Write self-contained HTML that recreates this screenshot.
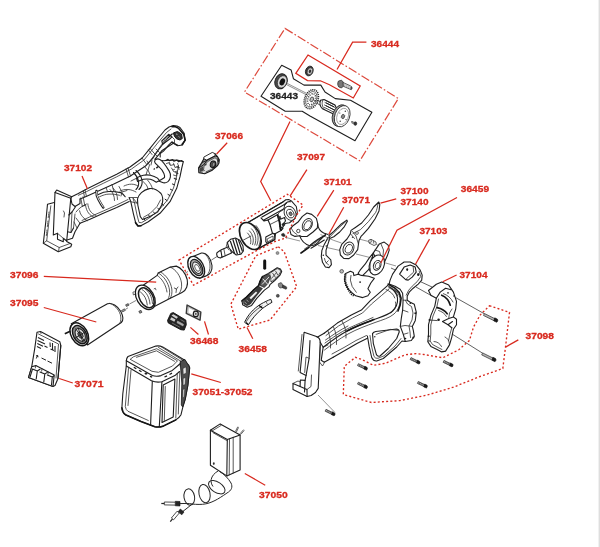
<!DOCTYPE html>
<html><head><meta charset="utf-8">
<style>
html,body{margin:0;padding:0;background:#fff;}
body{width:600px;height:547px;overflow:hidden;position:relative;font-family:"Liberation Sans",sans-serif;}
svg{position:absolute;left:0;top:0;display:block;filter:blur(.35px)}
.k{fill:none;stroke:#1e1e1e;stroke-width:1.1;stroke-linejoin:round;stroke-linecap:round}
.k2{fill:none;stroke:#2c2c2c;stroke-width:.8;stroke-linejoin:round;stroke-linecap:round}
.kb{fill:none;stroke:#161616;stroke-width:1.6;stroke-linejoin:round;stroke-linecap:round}
.f{fill:#fff;stroke:#1e1e1e;stroke-width:1.1;stroke-linejoin:round}
.d{fill:#2a2a2a;stroke:#2a2a2a;stroke-width:.5;stroke-linejoin:round}
.g{fill:#8a8a8a;stroke:#333;stroke-width:.6}
.r{fill:none;stroke:#d8291e;stroke-width:1.25;stroke-linecap:butt;stroke-linejoin:miter}
.rd{fill:none;stroke:#d8291e;stroke-width:1.35;stroke-dasharray:2 2.2}
.rdd{fill:none;stroke:#dd4a3d;stroke-width:1.2;stroke-dasharray:9 2.2 1.6 2.2}
text{font-family:"Liberation Sans",sans-serif;font-weight:bold;font-size:9.5px;fill:#d8291e;stroke:#d8291e;stroke-width:.3px;paint-order:stroke}
text.b{fill:#222;stroke:#222}
</style></head>
<body>
<div style="position:absolute;left:598px;top:0;width:1px;height:547px;background:#f1f1f1"></div><div style="position:absolute;left:599px;top:0;width:1px;height:547px;background:#dedede"></div>
<svg width="600" height="547" viewBox="0 0 600 547">
<!-- ===== PARTS ===== -->
<g id="parts">
<g id="h37102">
<!-- battery plate -->
<path class="k" d="M55,192.5 L56.7,190 L71.7,196.7 L70.8,198.3 Z"/>
<path class="k" d="M55,192.5 L53.3,235 L57.5,233.3 L57.5,239.2 L63.3,241.7 L63.3,238.3 L66.7,241 L70.8,198.3"/>
<path class="k" d="M54.2,202.5 L47.5,204.2 L45.8,221.7 L43.3,243.3 L58.3,251.7 L70.8,246.7 L71.7,244.2 L66.7,241.5"/>
<path class="k2" d="M50.8,205.8 L46.7,240.8 L59.2,247.5 L70,243.5"/>
<path class="k2" d="M59.2,247.5 L58.5,251.5 M46.7,240.8 L43.5,243"/>
<path class="k2" d="M49,212 L48.2,218 M48,221 L47.3,227 M47,230 L46.3,236" stroke-dasharray="1.2 1"/>
<path class="k2" d="M63.5,211 L64.5,213 L64,217 M57.5,233.3 L63.3,238.3"/>
<!-- neck -->
<path class="k" d="M70.8,198.3 L72,204 L75,206.5 L80,203.5 L80,199"/>
<path class="k" d="M68.8,215 L72,212 L75.5,206.8 M67.5,231.7 L71,232.5 L73.5,228 M67,240 L72.5,238.3 L75,231.7 L80,223.3"/>
<path class="k2" d="M72,212 L71,232 M75,214 L73.5,228"/>
<!-- grip upper edges -->
<path class="k" d="M71.7,196.7 L78.3,193.5 L86.7,189 L103.3,180.8 L116.7,174.3 L130,167 L142.2,158 L150,148.3 L156.7,140 L165,130 L169,127 L173.3,125.6 L177,126 L180,127.5 L184.2,133.3 L185,140 L182.5,145 L177.5,145.8 L173.3,143.3 L166.7,147.5 L161.7,150.8 L159.2,154.2 L155,159.2"/>
<path class="k" d="M80,199 L86.7,196.3 L96.7,191.8 L113.3,184.3 L130,176.3 L145.5,166 L153,158 L158,150.5 L163,144 L168,138 L172,134 L176.5,133.5"/>
<path class="k2" d="M78.3,195.3 L86.7,191.5 L103.3,183.3 L116.7,176.8 L131.5,169 L144,160 L151.8,150.3 L158.5,142 L166.5,132.5 L171,129"/>
<path class="k2" d="M85,190 L86.5,196.5 M83.4,191.1 L84.5,197 M128,168 L130.5,176 M126,169 L128.5,177 M150,148.3 L153.5,152.5 M148.5,150 L152,154.5 M142,158 L146,163.5"/>
<!-- hook inner -->
<path class="k" d="M161.8,141 L168.6,134.3 L171.9,136.8 L169.4,139.3 L162.7,144.4 Z"/>
<path class="k2" d="M150.1,161.2 L157.6,150.3 L161.8,144.4 L165.2,139.3 L169.4,135.1"/>
<path class="k" d="M177.8,145.2 L174.5,143.5 L171.9,141.8 L168.6,145.2 L163.5,151.1 L160.2,153.6 L160.2,157"/>
<path d="M173.6,132.8 L177.5,131.5 L181.5,134 L182.3,138.5 L180,140 L176.5,138.8 L174.3,136Z" fill="#333" stroke="#161616" stroke-width="1"/>
<path d="M176,134 l1.5,.4 M178.5,136.5 l1.2,.8" stroke="#ddd" stroke-width=".7"/>
<path class="kb" d="M171.9,126.6 L175.5,126.8 L178.7,128.4 L183.7,134.3 L185.2,140.2 L182,144.4"/>
<path class="k2" d="M171.9,136.8 L174.5,139.5 L174.5,143.5 M153.5,152.5 L157,156 M156,149 L159.5,152.5"/>
<!-- grip lower edge -->
<path class="k" d="M80,223.3 L90,219.2 L103.3,213.3 L116.7,207.5 L129.2,201.5"/>
<path class="k2" d="M82,220.5 L90,216.8 L103.3,211 L116.7,205 L128,199.5"/>
<!-- grip inner ribs -->
<path d="M96.5,190.9 C96.3,194 97,197 98.3,199.1 C99.8,202 101.5,205 103.3,207.5" stroke="#1e1e1e" stroke-width="2.4" fill="none" stroke-linecap="round"/>
<path d="M96.7,191.5 C96.6,194 97.3,197 98.5,199 C100,201.8 101.6,204.8 103.2,207" stroke="#fff" stroke-width=".9" fill="none" stroke-linecap="round"/>
<path class="k" d="M98.3,194.4 C102,192.5 105.5,191.6 108.8,191.5 C113,191.3 117,191.8 120.5,192.6 C122.5,193.6 124,195 125.2,196.7"/>
<path class="k2" d="M99.5,196.8 C103,195 106,194.2 109,194.1 C113,194 116.5,194.5 119.5,195.3"/>
<path class="k2" d="M87.8,203.8 C88,206.5 89,209 90.1,210.8 C91.5,213 93.5,214.5 96,215.5 M85.5,205 C85.8,208 87,211 88.5,213 C90,215 92,216.5 94,217.3"/>
<path class="k2" d="M79.6,210.8 C80,213 81,215 82.5,216.6 C84,218.5 85.5,219.8 87.2,220.7"/>
<path class="k2" d="M83.1,196.7 L84.8,205.5 M80.8,198 L82.3,206.3 M82.3,206.3 L84.8,205.5"/>
<path class="k2" d="M76,212 C79,208 83,205.5 86.5,204 M76,218 L80,223.3 M74,222 L77,228"/>
<path class="k2" d="M106,187.5 L107.5,191.5 M112,184.5 L113.8,191.3"/>
<!-- trigger guard outer -->
<path class="k" d="M129.2,197.5 L130.8,201.7 L133.3,213.3 L135.8,223.3 L138,226 L140.8,225.8 L148.3,221.7 L160,213.3 L170,201.7 L176.7,188.3 L180,176.7 L181.7,168.3 L183.3,161.7 L178,160.3 L171.7,160 L163.3,160.8 L155,159.2"/>
<path class="k" d="M137.5,199 C138.5,194.5 143,190 149.3,188.6 C154,188 158.6,191 161,193.5 C163.3,196.8 163,200.5 162.2,203.9 C160.5,207.5 158.5,210.5 157.5,212.1 L150,216.5 L142.5,219.5 L140.3,216.7 L137.8,205 Z"/>
<path class="k2" d="M133,198.5 L134.5,203 L137,215 L139,222.5 L141.5,222.7 L148.5,218.5 L158.5,210.5 L167.5,200 L173.5,188 L176.5,177 L178.5,165.5"/>
<path class="k2" d="M143.5,217.3 L150,213.5 L157,206.5 L160.5,200"/>
<path class="kb" d="M135.5,222.5 L138,226 L141,225.8"/>
<path class="k2" d="M129.2,197.5 L137.5,197.5 M130.8,201.7 L137.5,203.3 M133,198 L137,203"/>
<!-- trigger internals -->
<path class="f" d="M155.1,160 C156.5,158.8 158.5,158.8 159.8,159.4 C163,161 165.7,165.2 169.2,171.1 C170.6,173.5 170.8,175.5 170.4,176.9 C170,179.5 169,181 168,181.6 C166,183 164.5,183 163.3,182.8 L158.6,181 C160.5,180 162.5,179 164.5,177.5 C164.8,176 164.3,174.5 163.9,173.4 C162.5,170.5 161,168.5 159.8,167.6 C158,165.5 156,164 155.1,162.9 C154.5,162 154.5,160.8 155.1,160Z"/>
<path class="f" d="M136.4,178.1 C139,176.5 141,175.7 143.4,175.2 C146,174.7 148,174.8 150.4,175.2 C153,175.8 155.5,176.8 157.5,178.1 L159.5,180.5 L156.3,182.2 C154,180.8 152,179.8 150.4,179.3 C148,178.8 146,178.8 143.4,179.3 C141,180 139.3,180.8 137.6,181.6Z"/>
<path d="M155.8,167.5 l2,-1.6 l1,1.2 l-2,1.6z M153.3,169 l1.2,-1 l.7,.9 l-1.2,1z" fill="#222"/>
<path class="k" d="M136,170.5 C139,173 141,176 142,180 C142.5,183.5 141.5,187 139,189.5 M133.5,172.5 C136,175 138,178 138.5,181.5 C139,184.5 138,187.5 136,189.5"/>
<path class="k2" d="M131,181 L137,178 M124,186 C129,183.5 134,183.5 138,186 M120,191 C125,188.5 131,189 136,192"/>
<path class="k2" d="M147,161 L149.5,165 L148,170 L150,174.5 M152,160.5 L151,165 M144,166 L147.5,170 L146,175"/>
<path class="k2" d="M143,181.5 C146,184 147.5,186 148,189 M147.5,180 C150,183 152,186 152.5,189"/>
<!-- ratchet top edge -->
<path class="k" d="M165.7,160.5 L168,159.3 L169.5,160.8 L172.7,159.6 L174,161.3 L177,160 L178.5,161.8 L181.5,160.5 L183.2,161.7"/>
<path class="k2" d="M166.5,163.5 L169.5,162.5 L170.5,165.5 L174,164.5 L175,167.5 L178.5,166.5 L179,169.5 M171.5,168 L174,172 L177.5,171 M173.5,175 L176.5,176 L177,172.5"/>
<path d="M169,162.8 l1,2.4 M173.3,162.8 l1,2.6 M177.5,163 l.8,2.8 M172.5,170 l2.5,-.8 M174.3,178 l2.5,.6" stroke="#333" stroke-width=".7" fill="none"/>
<!-- guard ladder ribs -->
<path d="M179.5,167.5 L176.5,166.8 M178.3,173.5 L175.3,172.6 M176.8,179.5 L173.8,178.4 M175,185 L172,183.8 M172.8,190.5 L170,189 M170.3,195.8 L167.6,194.2 M167.3,200.8 L164.8,199 M163.8,205.5 L161.5,203.5 M159.5,210 L157.5,207.8 M155,214 L153.3,211.6 M150,217.5 L148.6,215 M145,220.5 L143.8,218" stroke="#222" stroke-width="1" fill="none"/>
<path class="k2" d="M113,188 C116,191 117.5,195 117.5,199.5 M110,189.5 C113,192.5 114.5,196 114.5,200.5"/>
<path class="k2" d="M119,186.5 L122,192 L121,196 M122,192 L127,190.5"/>
</g>
<g id="s37066">
<path d="M201.8,162.6 L204,158.5 L214.9,153.6 L217.6,156.8 L219.3,159.7 L219,163 L217.6,165.5 L212.3,170.2 L204.7,173.7 L198.8,172.6 L198.6,167.9 Z" fill="#9a9a9a" stroke="#1a1a1a" stroke-width="1.1" stroke-linejoin="round"/>
<path d="M201.8,162.6 L207,160.3 L215.2,156 L217.6,156.8 M198.6,167.9 L203.5,165 L207,160.3" stroke="#1a1a1a" stroke-width="1" fill="none"/>
<path d="M204.2,166 L207.8,161.5 L215,157.8 L217.8,160 L217,164.5 L212,169 L206,171.8 L203.5,170Z" fill="#e4e4e4" stroke="#222" stroke-width=".6"/>
<path d="M203.8,157.1 L212.3,152.4 L214.9,153.6 L215.2,155.6 L206.7,160 L203.8,158.8Z" fill="#fff" stroke="#1a1a1a" stroke-width=".9" stroke-linejoin="round"/>
<ellipse cx="213" cy="164.3" rx="2.7" ry="3.4" transform="rotate(15 213 164.3)" fill="#555" stroke="#111" stroke-width="1"/>
<ellipse cx="213.6" cy="164.4" rx="1.3" ry="2.2" transform="rotate(15 213.6 164.4)" fill="#999" stroke="#111" stroke-width=".5"/>
<path d="M217.5,157.5 L219.2,159.7 L218.8,162.5 L217.3,161Z" fill="#222"/>
<path d="M199.5,168.5 L203,166.5 L203.3,170.5 L200,172Z" fill="#444"/>
<path d="M202.5,171.8 l3,-.9 l.6,1.2 l-2.8,.9z" fill="#f4f4f4"/>
<path d="M204.5,164.5 l1.8,-.8 l.4,1.3 l-1.8,.8z" fill="#333"/>
</g>
<g id="detail">
<path class="k" d="M281.7,65.2 L291.1,69.9 L293.4,78.7 L304,85.1 L320.8,85.1 L325,92 L335.3,98.6 L350.5,100.2 L371.9,112.2 L355,140.7 L310,116 L302.2,111.3 L285.2,111.3 L261,96.3 Z" stroke-width="1"/>
<!-- bearing -->
<ellipse cx="281" cy="81.3" rx="6" ry="7.8" transform="rotate(22 281 81.3)" fill="#4a4a4a" stroke="#1e1e1e" stroke-width=".9"/>
<ellipse cx="282.2" cy="81.8" rx="4.6" ry="6.3" transform="rotate(22 282.2 81.8)" fill="#d8d8d8" stroke="#1e1e1e" stroke-width=".6"/>
<ellipse cx="282.3" cy="81.9" rx="2.6" ry="3.7" transform="rotate(22 282.3 81.9)" fill="#141414"/>
<!-- shaft -->
<path d="M286.5,84.6 L306,94.6 M287.2,83.4 L306.5,93.3" stroke="#333" stroke-width=".55" fill="none"/>
<!-- gear wheel -->
<ellipse cx="311.3" cy="99.2" rx="6.6" ry="9.8" transform="rotate(22 311.3 99.2)" fill="#fff" stroke="#222" stroke-width="1.6" stroke-dasharray="1.1 .9"/>
<ellipse cx="311.3" cy="99.2" rx="5.2" ry="8" transform="rotate(22 311.3 99.2)" fill="#fff" stroke="#222" stroke-width=".6"/>
<ellipse cx="311.6" cy="99.3" rx="3.7" ry="5.8" transform="rotate(22 311.6 99.3)" fill="none" stroke="#333" stroke-width="1.5" stroke-dasharray="1 1.2"/>
<ellipse cx="311.8" cy="99.4" rx="1.7" ry="2.5" transform="rotate(22 311.8 99.4)" fill="#bbb" stroke="#222" stroke-width=".7"/>
<!-- drum -->
<path class="f" d="M320.5,100.3 L324,99.5 L335,105 L337.5,110.5 L334.5,114.5 L322.5,108.8 C320,107 319.3,103 320.5,100.3Z"/>
<path class="k2" d="M322.8,100 C321.5,103 322,106.5 324.5,109.5 M325.5,100.3 L334.5,104.9 M325,102.5 L335,107.5 M324.5,105 L335,110.3 M324.5,107.5 L334.5,112.5"/>
<path class="k2" d="M318,100.5 L320.3,101.7 M317.3,103.5 L320,105"/>
<path d="M326,102.8 L334,106.8 M326,105.7 L334,109.8" stroke="#222" stroke-width="1" fill="none"/>
<!-- big disc -->
<ellipse cx="340.2" cy="115.6" rx="7.6" ry="11.2" transform="rotate(20 340.2 115.6)" fill="#9a9a9a" stroke="#222" stroke-width=".8"/>
<ellipse cx="342.2" cy="116.2" rx="7.4" ry="11" transform="rotate(20 342.2 116.2)" fill="#fff" stroke="#222" stroke-width=".8"/>
<ellipse cx="342.6" cy="116.4" rx="5.6" ry="8.4" transform="rotate(20 342.6 116.4)" fill="none" stroke="#555" stroke-width=".5"/>
<ellipse cx="343" cy="116.5" rx="1.6" ry="2.2" transform="rotate(20 343 116.5)" fill="#888" stroke="#222" stroke-width=".6"/>
<circle cx="345.3" cy="111.3" r=".7" fill="#333"/><circle cx="340.2" cy="121.3" r=".7" fill="#333"/><circle cx="346" cy="119.5" r=".6" fill="#333"/><circle cx="339.8" cy="113" r=".6" fill="#333"/>
<!-- small screw -->
<path d="M351,121.3 L354.5,123" stroke="#444" stroke-width=".6"/>
<ellipse cx="355.3" cy="123.6" rx="1.5" ry="1.8" fill="#333" stroke="#111" stroke-width=".5"/>
<path d="M352.2,121.4 l2.2,1 l-.6,1.6 l-2.2,-1z" fill="#999" stroke="#222" stroke-width=".4"/>
<!-- small bearing in red box -->
<ellipse cx="309.3" cy="71" rx="3.7" ry="5" transform="rotate(22 309.3 71)" fill="#3a3a3a" stroke="#1e1e1e" stroke-width=".8"/>
<ellipse cx="309.9" cy="71.2" rx="2.5" ry="3.5" transform="rotate(22 309.9 71.2)" fill="#cfcfcf" stroke="#222" stroke-width=".5"/>
<ellipse cx="310" cy="71.3" rx="1.2" ry="1.8" transform="rotate(22 310 71.3)" fill="#333"/>
<!-- bolt -->
<path d="M338.5,81 L341.5,80.2 L343.2,82 L343.5,86 L341.5,88 L338.8,87 C337.4,85.2 337.4,82.8 338.5,81Z" fill="#777" stroke="#222" stroke-width=".7"/>
<path d="M343.2,82.5 L350.8,86 C352,86.7 352.3,88.8 351.2,89.7 L343.3,86.3Z" fill="#eee" stroke="#222" stroke-width=".7"/>
<path d="M345,83.7 L344.8,86.7 M347,84.5 L346.8,87.6 M349,85.4 L348.8,88.4" stroke="#444" stroke-width=".5"/>
<ellipse cx="351.3" cy="88" rx="1" ry="1.6" fill="#444"/>
</g>
<g id="g37097">
<!-- housing body -->
<path class="f" d="M247.5,222.7 L282.8,202 L285.8,199.8 L289,199.6 L291.8,201.3 L296.3,206.5 L297.3,212.5 L294.8,218.5 L289.5,222.8 L285,223.5 L281,230.5 L275.5,233.5 L274.8,239.8 L257.3,249.3 Z"/>
<path class="k" d="M247.5,222.7 L282.8,202 M257.3,249.3 L274.5,239.5"/>
<!-- drum front ring -->
<ellipse cx="250.3" cy="236" rx="9.3" ry="14.6" transform="rotate(-30 250.3 236)" fill="#fff" stroke="#1a1a1a" stroke-width="1.7"/>
<path class="k2" d="M256,225.5 C260.5,230 262,238 259,245.5 M253.7,227 C258,231.5 259.5,238.5 256.8,245.3 M251.5,228.8 C255.5,232.8 257,239 254.8,245 M249.3,230.8 C253,234.3 254.3,239.5 252.6,244.5 M247.5,233 C250.5,236 251.5,240 250.5,243.8"/>
<path class="k2" d="M243.5,240 L251,236"/>
<!-- housing upper arm -->
<path class="k" d="M262,217 L283.5,205 L286.5,203 M263.5,220.3 L284,208.8 M261,217.8 L264,221 L268,220 L270,224.5 L272.5,233.5 L275.5,233.5"/>
<path class="k" d="M268,220 L277.8,214.5 L280,222 L281,230.5"/>
<path class="k2" d="M270,224.5 L279,220 M277.8,214.5 L279.5,212 L283,210"/>
<path class="kb" d="M277.5,215 L279.5,222.5 L280.3,229.5"/>
<!-- round gear head -->
<path class="k" d="M284,208.8 C284,204 287,201 290.5,201.8"/>
<ellipse cx="290" cy="213.3" rx="5.6" ry="7.3" transform="rotate(-25 290 213.3)" fill="#fff" stroke="#222" stroke-width=".9"/>
<ellipse cx="290.3" cy="213.6" rx="3.4" ry="4.6" transform="rotate(-25 290.3 213.6)" fill="#fff" stroke="#222" stroke-width=".8"/>
<ellipse cx="290.6" cy="213.8" rx="1.5" ry="2" transform="rotate(-25 290.6 213.8)" fill="#777" stroke="#222" stroke-width=".6"/>
<!-- bits -->
<path class="d" d="M278,217 l2.2,-1 l1,3 l-2.2,1z M281.8,224 l2.5,-1.2 l.7,2.3 l-2.5,1.2z"/>
<path class="k" d="M281,219 L284.5,217.5 L285.5,221 L283.5,223.5 M279.5,226 L283,228.5 L281.2,230.5"/>
<path class="f" d="M265.8,237 L273,233.2 L274.5,234.5 L274.8,239.3 L267.5,243.2 L265.8,241.8Z"/>
<path class="k2" d="M267.5,238.8 L273,236 L273.2,239 L267.7,241.8Z"/>
<path class="d" d="M281.5,234 l2.2,-.8 l1.6,2.2 l-1.5,1.3 l-2,-.9z"/>
<path d="M284.5,236.5 L287,238.3" stroke="#333" stroke-width=".6"/>
<!-- pinion -->
<path class="f" d="M217,252.8 L219.8,250.6 L221.8,251 L222.8,256.2 L220.5,258 L218,257.2 C216.8,256 216.5,254 217,252.8Z"/>
<path class="f" d="M220.8,250 L229.5,246.2 L231.5,253 L222,257.2Z"/>
<path class="k2" d="M223.8,248.8 L225.2,255.8"/>
<path class="f" d="M227.3,242.5 L230.5,239.3 L235.5,238 L239.8,240.2 L243,246 L243.4,251 L240.8,254.3 L236.3,255 L232.5,252 L229,248Z"/>
<path d="M230.3,241 L234.5,253.2 M232.8,239.3 L237.5,254.3 M235.6,238.5 L240.2,253.8 M238.3,239.6 L242.5,251.5" stroke="#1c1c1c" stroke-width="1.2" fill="none"/>
<path class="k2" d="M227.3,242.5 L226.3,246.5 L229,250"/>
<!-- axis -->
<path d="M211.5,260 L217,256.5" stroke="#333" stroke-width=".7"/>
<!-- bearing -->
<path class="f" d="M193,256.5 L201.5,253 C206.5,252.5 211,258 212,265.5 C212.5,270.5 210,275 206,276 L199.6,278.3 Z"/>
<path class="k2" d="M204.3,253.5 C208.5,256.5 210.6,262 209.9,268.5 C209.4,272.5 207.5,275.5 205,276.6"/>
<ellipse cx="196.2" cy="267.2" rx="7.3" ry="11.6" transform="rotate(-28 196.2 267.2)" fill="#fff" stroke="#1c1c1c" stroke-width="1.4"/>
<ellipse cx="196.6" cy="267.5" rx="5.3" ry="8.8" transform="rotate(-28 196.6 267.5)" fill="#aaa" stroke="#1c1c1c" stroke-width="1.3"/>
<ellipse cx="196.9" cy="267.7" rx="3.6" ry="6.2" transform="rotate(-28 196.9 267.7)" fill="#eee" stroke="#222" stroke-width=".9"/>
<ellipse cx="197.2" cy="267.9" rx="2" ry="3.7" transform="rotate(-28 197.2 267.9)" fill="#fff" stroke="#333" stroke-width=".7"/>
<path d="M176,278.5 L188,271.5" stroke="#333" stroke-width=".6"/>
</g>
<g id="g37096">
<path class="f" d="M143.2,285.2 L157.2,275.4 L158.2,273 L170.3,267.1 L176.3,266.1 C181,267.5 185.5,273 187.2,279.5 C188.3,285 186.5,290.5 182,292.5 L170.3,298.3 L158.2,304.5 L149.2,309.3Z"/>
<path class="k2" d="M158.2,273 C164,276 168.5,283 169.5,290 C170,294 169.3,297 167.8,299.5 M160.5,272 C166.3,275 170.8,282 171.8,289 C172.3,293 171.6,296 170.1,298.5 M170.3,267.1 C176,269.5 180.5,276 181.5,283 C182,287.5 181,291 179.3,293.3"/>
<path class="k2" d="M157.2,275.4 C162,278.5 166,285 167,292 M174.3,288 L176.5,289 L176,292.5 M176.5,289 L178,287"/>
<ellipse cx="145.3" cy="297.3" rx="8.6" ry="13.2" transform="rotate(-30 145.3 297.3)" fill="#fff" stroke="#1a1a1a" stroke-width="1.3"/>
<ellipse cx="146.3" cy="297.8" rx="6.6" ry="10.8" transform="rotate(-30 146.3 297.8)" fill="#fff" stroke="#1a1a1a" stroke-width="1.5"/>
<path class="k2" d="M142,289.5 C146.5,292 149.5,297.5 150,304 M144.5,288.5 C149,291 152,296.5 152.5,303.5 M140.5,292 C144,294.5 146.8,299 147.3,305"/>
<path d="M134.5,291.5 l-1.6,.8 l.5,2.6 l1.6,-.6 M153.8,289 l1.5,-.8 l.8,2" stroke="#222" stroke-width=".7" fill="none"/>
<!-- screws -->
<path d="M125.6,304.8 l2.6,-1.2 l.8,1.6 l-2.6,1.3z M138.8,311.3 l2.2,-1 l1,2 l-2.2,1z" fill="#888" stroke="#222" stroke-width=".6"/>
<path d="M129.5,304 L136,300.5" stroke="#333" stroke-width=".6"/>
</g>
<g id="g37095">
<path class="f" d="M71.3,323.8 L107.5,303.8 C112,302.5 117.5,305.5 120.8,311.5 C123.3,316.3 123.3,320.5 121.3,322.5 L87.5,345Z"/>
<path class="k2" d="M109.5,303.3 C114,304.5 118.5,309 120.3,314.5 C121.3,318 121,321 119.8,323.3"/>
<ellipse cx="79.3" cy="334.3" rx="8.2" ry="12.3" transform="rotate(-30 79.3 334.3)" fill="#fff" stroke="#161616" stroke-width="1.5"/>
<ellipse cx="79.8" cy="334.6" rx="6.4" ry="9.9" transform="rotate(-30 79.8 334.6)" fill="#8a8a8a" stroke="#161616" stroke-width="1.4"/>
<ellipse cx="80.2" cy="334.8" rx="4.4" ry="6.9" transform="rotate(-30 80.2 334.8)" fill="#e2e2e2" stroke="#1c1c1c" stroke-width="1"/>
<ellipse cx="80.5" cy="335" rx="2.2" ry="3.5" transform="rotate(-30 80.5 335)" fill="#777" stroke="#1c1c1c" stroke-width=".8"/>
<path d="M75.5,328.5 L85,341.5 M74,338.8 L86.5,331 M78,327.5 L83,342.5" stroke="#1c1c1c" stroke-width=".9"/>
<path d="M64.8,333.8 L70.2,331.3" stroke="#161616" stroke-width="1.7"/>
<!-- shaft -->
<path d="M121.5,310.5 L124.5,308.8 L125.5,310.3 L122.5,312Z" fill="#999" stroke="#222" stroke-width=".6"/>
<path d="M125.5,309.3 L128,307.8" stroke="#333" stroke-width=".6"/>
</g>
<g id="pcb">
<path class="f" d="M37,332.3 L40.5,331.5 L59.8,341.7 L60.8,345.5 L58,378.5 L55,385.5 L53,386.5 L28.5,377.6 L31.7,366.8 L34.6,349.3 Z"/>
<path class="k2" d="M38.5,334 L58.5,344 L56,378 M40.5,331.5 L41,333.5"/>
<path class="k" d="M58,378.5 L60.8,345.5"/>
<path d="M38,337.5 L44,340.5 M37.5,340.5 L45,344 M37.3,343.5 L43,346.3 M44.5,346 L47.5,347.5 M37,346.5 L41,348.5 M50,342.5 L50.3,347 M52.5,343 L52.5,351 M55,346 L55,352 M50.5,349 L54,350.5" stroke="#222" stroke-width="1.1" fill="none"/>
<path d="M36,355.5 L38.5,356.8 M41.5,358 L46,360.2 M47.5,361 L52,363.2 M36.3,358.5 L37.8,355" stroke="#222" stroke-width="1" fill="none"/>
<!-- connector -->
<path class="f" d="M31.7,366.8 L35.8,365.6 L54.2,375 L53,386.5 L28.5,377.6 Z"/>
<path class="k" d="M32.5,369 L37.3,371 L36.2,379 M37.3,371 L40,369.3 M40,372 L44.8,374 L43.8,382 M44.8,374 L47.3,372.4 M47.3,375 L52.3,377 L51.5,385 M52.3,377 L54,375.8 M32.5,369 L30,377"/>
<path class="k2" d="M35.8,365.6 L35.3,368 M42,368.8 L41.6,371.2 M48.3,372 L48,374.3"/>
</g>
<g id="p36468">
<path d="M187.1,305.1 L200.8,312.2 L200,320.1 L186.3,313.4Z" fill="#fff" stroke="#3a3a3a" stroke-width="1.5" stroke-linejoin="round"/>
<path d="M188.5,307.2 L199.4,312.9 L198.8,318.2 L187.8,312.8Z" fill="none" stroke="#777" stroke-width=".5"/>
<ellipse cx="195.8" cy="313.9" rx="2.5" ry="2.8" fill="#ddd" stroke="#1a1a1a" stroke-width="1.2"/>
<ellipse cx="195.8" cy="313.9" rx=".9" ry="1.1" fill="#555"/>
<path d="M167.5,320.5 L170.8,313.4 L173.3,312.6 L185.8,320.1 L186.3,324.7 L184.2,330.1 L180.8,329.7 L168.3,323Z" fill="#262626" stroke="#111" stroke-width=".9" stroke-linejoin="round"/>
<path d="M171.5,315.5 L173.3,314.2 L178,317 L176.5,318.8Z M170,319.5 L171.5,317.2 L175.5,319.5 L174.3,321.8Z" fill="#cfcfcf"/>
<path d="M177.5,321 L183.5,324.3 L183,326 L177,322.8Z M180.5,319.5 L184.5,321.8" fill="#aaa" stroke="#bbb" stroke-width=".5"/>
<path d="M172,323 L180,327.3" stroke="#888" stroke-width=".7"/>
</g>
<g id="battery">
<path class="f" d="M128,356.5 Q126.5,358 126.3,360.8 L126.3,366 L122.8,393.8 L121.9,407.7 Q122.3,412.5 125.4,414.7 L141,421.6 L154.9,426.8 Q159.5,427.5 163.6,425.9 L175.8,419.9 Q179.5,417.5 181,414.7 L182.7,407.7 L185.3,399 L187.9,385.1 L189.7,367.8 Q189.5,365 187,363.4 L184.4,360 L162.7,346.9 Q159,345.3 155.8,346.1 Z" stroke-width="1.2"/>
<!-- top cap edges -->
<path class="k" d="M126.3,360.8 L152.3,375.6 Q156.5,377 161,375.6 L172.3,370.4 L177.5,366 L184.4,360"/>
<path class="k" d="M126.3,366 L151.5,380.8 Q156.5,382.8 161.9,381.7 L174.9,375.6 L179.5,371.5"/>
<!-- platform -->
<path class="k2" d="M134.1,356.5 L156.7,348.7 L177.5,360.8 L172.5,366 L158.4,372.3 L152,371.3 L130.5,359.5 Z"/>
<path class="k2" d="M136.5,357.3 L156.5,350.8 L174.5,361.3"/>
<path class="k2" d="M158.5,347.5 L181,361.3 L180.1,366 M161.5,347 L184,361"/>
<!-- front vertical edges -->
<path class="k" d="M152.3,381.3 L150.6,425 M161.9,382 L159.3,426.5"/>
<!-- left face panel -->
<path class="k2" d="M128.5,368.5 L125.3,406.5 Q125.8,410 128,411.3 L148.3,420.5 M131,370 L128,405.5"/>
<!-- right face panel -->
<path class="k" d="M163.2,385 L174.9,379 L173.2,417 L162,422.5 Z"/>
<path class="k2" d="M165.3,386.5 L164.3,420.5"/>
<path class="k2" d="M177.3,373.5 L175.8,418 M179.8,371.8 L178.3,414"/>
<!-- right rail -->
<path d="M180.1,361.5 L185,359.5 L189.7,367.8 L187.9,385.1 L185.3,399 L182.7,407 L181.3,405 L181.8,383Z" fill="#4c4c4c" stroke="#161616" stroke-width=".8" stroke-linejoin="round"/>
<path d="M183,368.5 L186,367 L186.2,373 L183.3,374.5Z M183.2,378.5 L185.5,377.5 L185.1,384.5 L183.1,385.3Z M183,389.5 L184.7,388.8 L184.1,397 L182.8,397.8Z" fill="#e4e4e4" stroke="#161616" stroke-width=".4"/>
<!-- buttons/leds -->
<path d="M133.8,367.2 L136.3,368.7 M139,370.2 L141.5,371.7 M150,376.3 L152.2,377.2 M164.5,377 L167,375.8 M169.5,374.5 L172,373.2" stroke="#1c1c1c" stroke-width="1.3"/>
<ellipse cx="146" cy="373.6" rx="1.5" ry="1.1" fill="#222"/>
<path class="kb" d="M121.9,407.7 Q122.3,412.5 125.4,414.7 L141,421.6 L154.9,426.8 Q159.5,427.5 163.6,425.9 L175.8,419.9"/>
</g>
<g id="charger">
<path class="f" d="M210.4,430.2 L220.2,423.9 L240.1,434.9 L240.1,470 L226.8,475.9 L210.4,465.3Z" stroke-width="1"/>
<path class="k" d="M210.4,430.2 L227.3,439.6 L240.1,434.9 M227.3,439.6 L226.8,475.9"/>
<path class="k2" d="M233.2,437.3 L233.2,473 M229.5,438.8 L229.2,474.8 M212,431 L221,425.5 M213,432.7 L227.3,440.8"/>
<path d="M235.4,431.5 L237.8,426.7 M236.4,432 L238.6,427.3 M240,433.8 L243.6,429.6 M241,434.2 L244.3,430.3" stroke="#222" stroke-width=".7" fill="none"/>
<ellipse cx="213.8" cy="463.6" rx=".9" ry="1.3" fill="#333"/>
<!-- cable -->
<g fill="none" stroke="#262626" stroke-width="1">
<path d="M218.3,470.8 C214.5,473 211.8,476 211.2,479.5 C210.8,482 211.5,484.5 213,486.5"/>
<path d="M219.6,471.5 C224,474 228.5,478.5 231,483 C233,487 231.5,490.5 227,493 C222,496.5 218,499 215,500.5 C211,502.5 207,504 202.5,504.3 C198,504.6 193,504.3 189.5,503.6 L183.5,503.5"/>
<ellipse cx="216.8" cy="487.2" rx="9.3" ry="5.2" transform="rotate(33 216.8 487.2)"/>
<ellipse cx="204.5" cy="493.6" rx="5.5" ry="9.3" transform="rotate(-12 204.5 493.6)"/>
<ellipse cx="189.3" cy="497" rx="5.3" ry="8.2" transform="rotate(-10 189.3 497)"/>
<path d="M191,505 C188.5,507 185.5,509.5 183,511.3"/>
</g>
<!-- plugs -->
<path d="M175.3,501.3 L180,501.5 L180,506 L175.3,505.8Z M180.3,509 L184,512 L181.8,514.8 L178.2,511.8Z" fill="#262626" stroke="#111" stroke-width=".6"/>
<path d="M164.3,502 L175.3,502.2 L175.3,505.1 L164.3,504.9Z" fill="#fff" stroke="#222" stroke-width=".8"/>
<path d="M161.3,503.5 L164.3,503.5" stroke="#222" stroke-width="1.2"/>
<path d="M179.3,513 L173.6,519.8 L171.4,518 L177.1,511.2Z" fill="#fff" stroke="#222" stroke-width=".8"/>
<path d="M172.5,518.9 L170.3,521.7" stroke="#222" stroke-width="1.2"/>
<path d="M180,503.6 L184,503.5" stroke="#262626" stroke-width="1"/>
</g>
<g id="axes" stroke="#3a3a3a" stroke-width=".55" fill="none">
<path d="M286,237.5 L300,241 M318,245.5 L340,250.5 M356,254 L372,258 M384,262.5 L396,266"/>
<path d="M296,229 L303.5,231 M320.5,234.5 L333.5,240.3 L341.5,243 M359,239 L368.5,241.5 M376.5,244.5 L381,247"/>
<path d="M391,268 L432,287 M455.5,297.5 L484.4,313.8 M452,334 L482.6,353.2 M416,287 L432,296" stroke="#3a3a3a" stroke-width=".8"/>
<path d="M318,395 L335,412.5 M388,287.5 L400,293"/>
</g>
<g id="cam">
<path class="f" d="M307,213 L311.7,214.4 L316.4,218.4 L317.7,223.7 L317.3,228 L313,232 L307,236.5 L301.5,236.5 L299.7,235.7 L295,236.4 L291,234.4 L289.7,229.7 L293,225.7 L298.4,221.7 L302.4,216.4 Z"/>
<ellipse cx="307.3" cy="224.8" rx="4.6" ry="6.6" transform="rotate(28 307.3 224.8)" fill="#fff" stroke="#222" stroke-width=".9"/>
<ellipse cx="307.6" cy="225.2" rx="3.1" ry="4.9" transform="rotate(28 307.6 225.2)" fill="#fff" stroke="#222" stroke-width=".8"/>
<circle cx="298.3" cy="231" r="1.7" fill="#fff" stroke="#222" stroke-width=".8"/>
<path class="k" d="M317.7,223.7 C318,228 319.5,231 323.7,233 L328,234.5"/>
<path class="k" d="M299.7,235.7 C301,240 304,244 309.7,245.7 C314,246.3 318,243 320.5,239.5 L325.5,234.5"/>
<path class="k2" d="M291,227.8 L293.5,232 L297,234.5 M301,253 L325,235.5 M304.5,249 L323,236.5"/>
<path class="kb" d="M301,253 L309,247.3"/>
</g>
<g id="strip">
<path class="f" d="M346.8,220.1 L340.9,224.3 L333.8,231.4 L329,235.5 L329.6,238.5 L333.8,236.7 L339.7,232 L344.4,226.6 L347.4,221.3 Z"/>
<path class="k2" d="M346.5,221 L338,228.5 L330,236.8"/>
<path class="f" d="M327.8,237.9 L324.3,244.4 L321.9,250.4 L321.3,256.3 L322.5,262.3 L325.4,267 L329,267.6 L331.4,264.6 L330.8,259.9 L327.8,256.9 L326,255.1 L326,250.4 L327.8,244.4 L329.6,239.1 Z"/>
<path class="k2" d="M324.5,258.5 C325,261.5 326.5,264 328.5,264.8 M326.2,262.8 L328.3,260.8"/>
<circle cx="328.3" cy="239" r="1.1" fill="#fff" stroke="#222" stroke-width=".7"/>
<circle cx="326.3" cy="246" r=".8" fill="#222"/><circle cx="323.3" cy="255.2" r=".8" fill="#222"/>
<path class="k" d="M310,245.3 C315,241 320,237.5 325.4,235.5 M311,248.2 C316,245.3 320.5,242.5 324.3,240"/>
</g>
<g id="blade">
<path class="f" d="M378.8,202 L373.7,207 L368.4,215 L361.7,223 L355,227.7 L351,230.4 L350.4,233.7 L347,239 L341.7,244.4 L339.7,249.7 L340.4,255 L343.7,258.4 L349,258.6 L353.7,255 L357.7,249.7 L358.4,244.4 L359,240.4 L361,236.4 L363,234.4 L368.4,228.4 L375,219 L379,211 L379.8,204.4 Z"/>
<path class="k2" d="M378,203.5 C377.5,207 376.8,210 375.7,212.4 L368.4,221.7 L360.4,229.7 L353,233.5"/>
<path class="k2" d="M352.5,231.5 L356,236 L358.4,244 M350.4,233.7 L354.5,238.5"/>
<ellipse cx="348.5" cy="248.5" rx="5.2" ry="6.8" transform="rotate(25 348.5 248.5)" fill="#fff" stroke="#222" stroke-width=".9"/>
<ellipse cx="348.8" cy="248.8" rx="3.3" ry="4.6" transform="rotate(25 348.8 248.8)" fill="#fff" stroke="#222" stroke-width=".8"/>
<circle cx="357" cy="233" r="1.4" fill="#fff" stroke="#222" stroke-width=".7"/>
<circle cx="352.5" cy="237.3" r=".7" fill="#333"/>
<!-- pin -->
<path d="M368.6,240.3 L371,239.3 L376,242 L376.3,244.5 L374,245.5 L369,243Z" fill="#eee" stroke="#222" stroke-width=".7"/>
<path d="M371,239.3 L371.3,242 L369,243 M373.5,240.7 L373.7,243.5" stroke="#222" stroke-width=".6" fill="none"/>
</g>
<g id="link">
<path class="f" d="M373.2,253.1 L369.1,258.1 L365.1,264.2 L360.1,270.2 L358.1,273.2 L360.1,275.7 L363.1,275.2 L368.1,270.2 L371,266Z"/>
<path class="f" d="M379.2,244.1 L384.2,242.1 L388.2,245.1 L389.2,250.1 L387.2,256.1 L384.5,262 L378,262 L373.2,253.1 L375.2,250.1 Z"/>
<ellipse cx="376.8" cy="264.9" rx="7.2" ry="10.3" transform="rotate(22 376.8 264.9)" fill="#fff" stroke="#1e1e1e" stroke-width="1.1"/>
<path class="k2" d="M381,244 L383.5,250 L383,256 L384.5,259.5 M375.2,250.1 L379.5,251.5 L380.5,255"/>
<ellipse cx="377.2" cy="265.3" rx="3.6" ry="5" transform="rotate(22 377.2 265.3)" fill="#fff" stroke="#222" stroke-width="1"/>
<ellipse cx="377.6" cy="265.6" rx="2.2" ry="3.3" transform="rotate(22 377.6 265.6)" fill="#fff" stroke="#222" stroke-width=".7"/>
<path class="k2" d="M372,257 C370,261 369.5,266 370.5,270.5"/>
</g>
<g id="sector">
<circle cx="341.7" cy="271.3" r="1.8" fill="#bbb" stroke="#333" stroke-width=".7"/>
<path class="f" d="M345.2,273.7 L350.4,271.3 L353.3,272.5 L353.9,275.6 L358,274.3 L361.5,275.4 L368.5,276.3 L374.3,278.3 L370.8,283 L367.9,288.8 L370.3,292.3 L367.9,295.8 L362.7,297.6 L355.7,295.8 L351.6,292.3 L348.5,289.5 L346,285 L344.6,280.1 Z"/>
<path d="M345.5,274.3 L345,278 L345.2,281.5 L346.3,285.3 L347.8,288.5 L349.6,291.5 L352,294.3 L354.5,296" stroke="#161616" stroke-width="2.4" stroke-dasharray="1.1 1" fill="none"/>
<path class="k2" d="M351,275.4 L350.4,280.1 L352.2,286.5 L356.3,292.3"/>
<circle cx="360.1" cy="282.1" r=".9" fill="#222"/>
</g>
<g id="p36458">
<circle cx="277.5" cy="253" r="1.5" fill="#999" stroke="#555" stroke-width=".5"/>
<rect x="263.2" y="259.5" width="3" height="10.2" rx="1.4" fill="#111"/>
<path class="f" d="M242,300.9 L242.7,304.8 L247.2,307.3 L251.6,305.4 L256.7,298.4 L264.4,290.1 L268.9,286.9 L270.2,284.3 L274.7,280.5 L279.8,275.4 L281.7,271.5 L280.4,269 L277.2,267.7 L273.4,270.2 L268.3,273.4 L262.5,276.6 L259.9,281.7 L258.7,285.6 L252.9,290.7 L246.5,297.1 Z" stroke-width="1.2"/>
<path d="M243.3,301.2 L253.5,291.5 L259,286.5 L262.5,288.5 L256,296.5 L250.5,304 L247,305.8 L243.8,304Z" fill="#3a3a3a" stroke="#111" stroke-width=".5"/>
<path d="M249.5,297.8 L256,291.5 L257.3,292.8 L251,299.2Z" fill="#f4f4f4"/>
<path d="M244.5,302 l2.2,1.6 M246.5,300 l2,1.5" stroke="#ddd" stroke-width=".6"/>
<path d="M260.2,281.5 L263,277 L268.3,274 L270.5,276.5 L268,283.5 L264.3,287.5 L260,285.5Z" fill="#555" stroke="#111" stroke-width=".6"/>
<path d="M262,284.5 L269,277 M262.5,278.5 L268,284.5" stroke="#f2f2f2" stroke-width=".9"/>
<path d="M269.5,273.5 L273.4,271 L277.2,268.6 L280,269.6 L280.6,271.8 L278.5,275.3 L274,279.8 L271,282 L270.5,276.5Z" fill="#e8e8e8" stroke="#111" stroke-width=".7"/>
<path d="M272.5,273 L275.5,277.5 M275.5,271 L277.8,275 M271.5,278.5 L276.5,272.5" stroke="#222" stroke-width=".7" fill="none"/>
<path class="kb" d="M242,300.9 L246.5,297.1 L252.9,290.7 L258.7,285.6 L259.9,281.7 L262.5,276.6"/>
<!-- screw -->
<path d="M278.5,283.6 L281.2,282.6 L283,285 L282.6,287.6 L280,288 C278.5,287 278,285.2 278.5,283.6Z" fill="#888" stroke="#222" stroke-width=".6"/>
<path d="M282.8,285 L286.3,286.7 C287,287.5 286.8,289 286,289.3 L282.5,287.8Z" fill="#444" stroke="#222" stroke-width=".6"/>
<circle cx="277.8" cy="295.8" r="1.5" fill="#555" stroke="#222" stroke-width=".5"/>
<!-- curved strip -->
<path d="M244.6,322.3 C247.5,315.5 253.5,308.5 261,304 C264.5,302 268,300.3 270.8,299.3 L272,302.3 C268.5,304.3 265,306.5 262.5,308.5 C256.5,313.3 252,318.8 248.3,325Z" fill="#f2f2f2" stroke="#1c1c1c" stroke-width="1"/>
<path class="k2" d="M246.3,321.5 C249.8,315.5 255.3,309.8 262,306"/>
<path d="M258.8,305.3 L262.6,308.2 M246,322.5 L248,324.3" stroke="#111" stroke-width="1.3"/>
<path d="M266,301.5 L267.5,304.5" stroke="#333" stroke-width=".7"/>
</g>
<g id="h37103">
<!-- battery plate -->
<path class="f" d="M304.1,332.2 L316.5,336.5 C319,337.5 320.2,339.5 320.2,342.2 L318.2,388.4 L315.5,392.5 L311.1,395.5 L307.1,396.5 L293,389.4 L293,383.4 L300.1,386.4 L300.3,380 L305.1,380.4 L306.1,375.4 L300.1,372.4 Z" stroke-width="1"/>
<path class="k" d="M306.1,375.4 L309.1,358.3 L310,340.5 M305.1,380.4 L304.5,392 M300.1,386.4 L307,389.5 L307.1,396.5"/>
<path class="k2" d="M309.1,358.3 L306,357 L304.7,372.5 M302,334.5 L298.3,371 M307,389.5 L311,386.5 L311.5,375"/>
<path class="k2" d="M293,383.4 L298,381 L300.3,382"/>
<!-- neck -->
<path class="k" d="M317.2,337.2 L324.2,333.2 M320.2,342.2 L323.2,347.2 L321.2,360.3 L324.2,362.3 L333.2,357.3"/>
<path class="k2" d="M320.5,345 L319.5,362 L322.5,366 L325,361.5 M323.2,347.2 L328,345"/>
<!-- grip upper -->
<path class="k" d="M324.2,333.2 L337.3,323.1 L351.3,315.1 L361.4,310.1 L370.1,300.8 L380.2,292.2 L389.2,284.2"/>
<path class="k2" d="M326,335.5 L338.5,326 L352.5,318 L362.5,313 L371.5,304 L381.5,295.5 L389,289"/>
<!-- grip overmold curves -->
<path class="k" d="M323.2,347.2 C330,342 338,336 347,331 C356,326 366,322.5 374.1,319.5 C381,317 388,315 392,311.5 C396,308 398,303 397.5,298 C397,294 394,290 389.5,287"/>
<path class="k2" d="M324.5,350 C331,345 339,339 348,334 C357,329 367,325.5 375,322.5 C382,320 389.5,318 394,314 C398.5,310 400.5,304 400,298.5 C399.5,294.5 397.5,291.5 394.5,289.5"/>
<path class="k2" d="M325,343 C332,338 340,332.5 349,328 C358,324 366,320.5 373,317.5 M325.5,340 C332,335.5 340,330 348,326"/>
<path class="k2" d="M328,331 C330,336 331,342 330.5,348 M333.5,327 C336,332 337,338.5 336.5,344.5 M342,321 C345,326 346.5,332 346,338"/>
<path class="kb" d="M347,331 C356,326 366,322.5 374.1,319.5"/>
<!-- grip lower -->
<path class="k" d="M333.2,357.3 L345.3,350.3 L357.4,343.2 L367.4,338.2"/>
<path class="k2" d="M332,354 L344,347.5 L356,340.5 L366.5,335.5"/>
<!-- trigger guard -->
<path class="k" d="M367.4,336 L369.2,346.7 L371.7,357.5 Q373.5,361.3 376.7,361 L383.3,358.5 L396.7,347 L402,341 L405.3,341.5"/>
<path class="k" d="M372.5,333.6 Q373.5,332 375.8,331.5 L396.7,329 Q399.5,329.5 399.2,332 L396.7,338.5 L388.3,348.5 L380,356 Q377.5,356.8 376.5,354.8 L373.3,343.3 Z"/>
<path class="k2" d="M370,335.5 L371.5,346 L374,356.5 Q375.5,358.8 378,358.3 L384,355.8 L395,346 L401,338.5"/>
<!-- head -->
<path class="f" d="M390.1,280.1 L392.6,274.1 L398.1,266.1 L404.1,262 L410.2,262 L416.2,265.1 L420.2,270.1 L422.2,275.1 L421.7,280.1 L418.2,284.1 L413.2,288.2 L409.2,292.2 L407.2,296.2 L407.2,300.2 L410.2,302.2 L414.3,304.3 L416.3,312.3 L415.3,320.4 L412.3,326.4 L413.3,330.4 L414.3,336.4 L411.3,340.5 L405.3,341.5 L403.3,334.4 L400.3,326.4 L401.3,318.3 L402.6,310.3 L403.1,300.2 L402.6,293.2 L400.1,289.2 L395.1,286.2 L389.1,284.1 Z"/>
<path class="k" d="M399.6,274.1 L404.1,267.1 L410.2,265.1 L415.2,267.1 L416.2,272.1 L412.2,277.1 L408.2,280.1 L405.7,279.6 Z"/>
<path class="k2" d="M413.2,267 L413.7,272.1 L409.2,276.1 L405.7,279.6"/>
<path class="k2" d="M419.2,271.1 L420.7,276.6 L417.2,281.6 L412.2,286.2 L408.7,290.2 L406.2,295.2"/>
<path class="k2" d="M405.5,300.5 L407.5,304 L411.5,306.5 L413,313 L412,320 L409,326 L410,332 L410.5,337.5"/>
<path class="k2" d="M403.3,310.3 L408,312 M400.3,326.4 L405,325.5 L412.3,326.4 M403.3,334.4 L408,333 M407.2,300.2 L403.1,300.2"/>
<path class="kb" d="M388.1,284.1 L395.1,288.2 L399.1,292.2 L401.1,298.2 L400.1,305.3 L398,311"/>
<g fill="#1a1a1a"><ellipse cx="407.2" cy="269.6" rx="1" ry="1.4"/><ellipse cx="418.2" cy="274.6" rx="1.1" ry="1.5"/><circle cx="415.3" cy="313.3" r="1"/><circle cx="410.3" cy="303.3" r=".8"/><circle cx="413.3" cy="337.4" r="1"/><circle cx="405.5" cy="338.5" r=".8"/><circle cx="374.8" cy="336.8" r=".7"/></g>
<!-- cavity double curves -->
<path class="k2" d="M388.2,286.2 C393,288 396.5,291 397.8,296 M386,289.5 C390,291 393.5,294 394.8,298 M376.1,334.4 L390.2,329.4 L398.2,330.4"/>
<path class="k2" d="M395.5,302 C396.5,306 395,310 391,313"/>
</g>
<g id="c37104">
<path class="f" d="M441.7,282 L436.3,284.3 L428.5,290.5 L430.9,295.2 L436.3,298.3 L434.8,306.1 L430.9,315.4 L428.5,324.7 L428.5,334 L427.8,341.8 L430.9,346.4 L437.1,349.5 L441.7,351.9 L445.6,351.1 L449.5,344.9 L451.8,337.1 L453.4,329.3 L456.5,324.7 L456.5,319.3 L453.4,316.9 L455.7,309.2 L456.5,301.4 L453.4,292.1 L448.7,285.1 Z"/>
<path class="k" d="M436.3,298.3 L440.2,292.1 L445.6,288.2 L451.1,289.8"/>
<path class="k2" d="M438.5,299 L436.8,307 L433,316 L430.8,325 L430.8,334 L430.2,341 L432.5,344.5 L438,347.5 L442,349.5"/>
<path class="kb" d="M441.7,295.2 C446,297 449,300.5 450.3,305.3 M437.1,307.6 C441.5,308.5 445,310.5 447.2,313.8"/>
<path class="k2" d="M443.3,293.6 C447.5,295 451,298 453,302 M438.6,310.5 C442,311.5 444.8,313.5 446.4,316.5"/>
<path class="k" d="M442.5,321.6 L448.7,318.5 L453.4,316.9 M442.5,321.6 L448,324.7 L451.8,327.8 M448,324.7 L452.5,321.5"/>
<path class="k2" d="M451.8,327.8 L450,334 L448.5,341 M445,337 C447.5,338 449,340.5 449.3,343.5 M434,341.5 C437,341.5 440,343.5 441.5,346.5 M448.7,318.5 L449.5,313 L452,309"/>
<g fill="#1a1a1a"><circle cx="438.6" cy="319.7" r="1.3"/><circle cx="429.5" cy="320" r="1"/><circle cx="428.7" cy="336.3" r="1"/><circle cx="448" cy="292.9" r=".8"/><circle cx="454" cy="296" r=".8"/><circle cx="429" cy="341" r=".8"/></g>
<path d="M429.5,320 L437.5,320.6" stroke="#222" stroke-width=".8"/>
</g>
<g id="screw-instances">
<g transform="translate(411,357.8)"><path d="M0,-.2 L6.6,3 L5.8,4.9 L-0.9,1.7Z" fill="#aaa" stroke="#2a2a2a" stroke-width=".7"/><path d="M1.6,.6 L.8,2.5 M3.3,1.4 L2.5,3.3 M5,2.2 L4.2,4.1" stroke="#333" stroke-width=".6"/><path d="M6.4,2.3 L8.6,3.4 C9.4,4.2 9,5.9 8,6.3 L5.5,5.2Z" fill="#1a1a1a" stroke="#111" stroke-width=".6"/></g>
<g transform="translate(444,360.6)"><path d="M0,-.2 L6.6,3 L5.8,4.9 L-0.9,1.7Z" fill="#aaa" stroke="#2a2a2a" stroke-width=".7"/><path d="M1.6,.6 L.8,2.5 M3.3,1.4 L2.5,3.3 M5,2.2 L4.2,4.1" stroke="#333" stroke-width=".6"/><path d="M6.4,2.3 L8.6,3.4 C9.4,4.2 9,5.9 8,6.3 L5.5,5.2Z" fill="#1a1a1a" stroke="#111" stroke-width=".6"/></g>
<g transform="translate(418.3,381.7)"><path d="M0,-.2 L6.6,3 L5.8,4.9 L-0.9,1.7Z" fill="#aaa" stroke="#2a2a2a" stroke-width=".7"/><path d="M1.6,.6 L.8,2.5 M3.3,1.4 L2.5,3.3 M5,2.2 L4.2,4.1" stroke="#333" stroke-width=".6"/><path d="M6.4,2.3 L8.6,3.4 C9.4,4.2 9,5.9 8,6.3 L5.5,5.2Z" fill="#1a1a1a" stroke="#111" stroke-width=".6"/></g>
<g transform="translate(358.4,363.9)"><path d="M0,-.2 L6.6,3 L5.8,4.9 L-0.9,1.7Z" fill="#aaa" stroke="#2a2a2a" stroke-width=".7"/><path d="M1.6,.6 L.8,2.5 M3.3,1.4 L2.5,3.3 M5,2.2 L4.2,4.1" stroke="#333" stroke-width=".6"/><path d="M6.4,2.3 L8.6,3.4 C9.4,4.2 9,5.9 8,6.3 L5.5,5.2Z" fill="#1a1a1a" stroke="#111" stroke-width=".6"/></g>
<g transform="translate(358.4,382.4)"><path d="M0,-.2 L6.6,3 L5.8,4.9 L-0.9,1.7Z" fill="#aaa" stroke="#2a2a2a" stroke-width=".7"/><path d="M1.6,.6 L.8,2.5 M3.3,1.4 L2.5,3.3 M5,2.2 L4.2,4.1" stroke="#333" stroke-width=".6"/><path d="M6.4,2.3 L8.6,3.4 C9.4,4.2 9,5.9 8,6.3 L5.5,5.2Z" fill="#1a1a1a" stroke="#111" stroke-width=".6"/></g>
<g transform="translate(326,409.5)"><path d="M0,-.2 L6.6,3 L5.8,4.9 L-0.9,1.7Z" fill="#aaa" stroke="#2a2a2a" stroke-width=".7"/><path d="M1.6,.6 L.8,2.5 M3.3,1.4 L2.5,3.3 M5,2.2 L4.2,4.1" stroke="#333" stroke-width=".6"/><path d="M6.4,2.3 L8.6,3.4 C9.4,4.2 9,5.9 8,6.3 L5.5,5.2Z" fill="#1a1a1a" stroke="#111" stroke-width=".6"/></g>
<g transform="translate(484.4,313.8)"><path d="M0,-.3 L10.5,4.9 L9.6,6.9 L-0.9,1.7Z" fill="#b5b5b5" stroke="#2a2a2a" stroke-width=".7"/><path d="M10.3,4 L12.9,5.3 C13.8,6.2 13.4,8 12.3,8.5 L9.4,7.1Z" fill="#1a1a1a" stroke="#111" stroke-width=".6"/></g>
<g transform="translate(482.6,353.2)"><path d="M0,-.3 L10.5,4.9 L9.6,6.9 L-0.9,1.7Z" fill="#b5b5b5" stroke="#2a2a2a" stroke-width=".7"/><path d="M10.3,4 L12.9,5.3 C13.8,6.2 13.4,8 12.3,8.5 L9.4,7.1Z" fill="#1a1a1a" stroke="#111" stroke-width=".6"/></g>
</g>
</g>
<!-- ===== RED OUTLINES ===== -->
<g id="red">
<path class="rdd" d="M285,28.4 L398.4,98.5 L359.8,160.8 L244.5,92 Z"/>
<path class="r" d="M308,55 L360.2,86 L353.3,98 L329.5,84.8 L320.4,80.8 L307.5,80.6 L295.8,73.4 Z"/>
<path class="r" d="M366.4,42.2 L352.6,42.2 L337,69.5"/>
<path class="r" d="M290,121.5 L260.7,181.5 L270.8,200.8"/>
<path class="r" d="M306.9,169.6 L290,196.2"/>
<path class="r" d="M227.2,142.8 L216.6,154"/>
<path class="r" d="M82,176 L87.5,189"/>
<path class="r" d="M333.8,190.1 L317.2,216.3"/>
<path class="r" d="M343.7,207.2 L328.8,234.3"/>
<path class="r" d="M396.2,198.8 L380.5,203.2"/>
<path class="r" d="M457,197.5 L397,230.2 L380.8,263"/>
<path class="r" d="M429.5,239.1 L415.5,264.2"/>
<path class="r" d="M456.6,275 L442.7,281.7"/>
<path class="r" d="M518.3,339.9 L505.5,347.1"/>
<path class="r" d="M43.8,276.3 L156.2,282.2"/>
<path class="r" d="M43.8,307.5 L96.3,322"/>
<path class="r" d="M59.2,378.5 L72.8,383"/>
<path class="r" d="M190.4,327.4 L198.4,334.5"/>
<path class="r" d="M204.5,321.4 L208.5,334.5"/>
<path class="r" d="M247,327.5 L252.8,338.8"/>
<path class="r" d="M191.3,373.8 L220.8,382.5"/>
<path class="r" d="M244.8,473.5 L265.2,485.2"/>
<!-- dotted groups -->
<path class="rd" d="M179,260 L287.3,194.3 L303,205 L295.5,217 L285.7,238 L276,241 L256.5,250.7 L193.5,285.2 Z"/>
<path class="rd" d="M278.3,246.7 L284.2,251.7 L296.7,286.7 L270,320 L238.3,329.2 L230.8,304.2 L255.8,255.8 Z"/>
<path class="rd" d="M489.5,305.7 L509.5,312.4 L505.5,347.1 L502.8,368.5 L480.1,376.5 L453.4,387.2 L426.7,395.2 L400,400.6 L371.4,402.5 L343.3,394.5 L344.3,366.3 L355.4,357.3 L361.4,359.3 L373.4,365.3 L385.5,363.3 L405,354.8 L416,353.6 L424,354.5 L442.7,357.8 L458.8,349.8 L469.4,340.5 L473.5,327.1 L480.1,315.1 Z"/>
</g>
<!-- ===== LABELS ===== -->
<g id="labels">
<text x="371" y="46.95" textLength="28" lengthAdjust="spacingAndGlyphs">36444</text>
<text class="b" x="270" y="98.65" textLength="28" lengthAdjust="spacingAndGlyphs">36443</text>
<text x="215" y="138.75" textLength="28" lengthAdjust="spacingAndGlyphs">37066</text>
<text x="297" y="160.25" textLength="28" lengthAdjust="spacingAndGlyphs">37097</text>
<text x="64" y="170.55" textLength="28" lengthAdjust="spacingAndGlyphs">37102</text>
<text x="323.7" y="184.85" textLength="28" lengthAdjust="spacingAndGlyphs">37101</text>
<text x="342" y="203.45" textLength="28" lengthAdjust="spacingAndGlyphs">37071</text>
<text x="400.5" y="193.65" textLength="28" lengthAdjust="spacingAndGlyphs">37100</text>
<text x="400.5" y="204.65" textLength="28" lengthAdjust="spacingAndGlyphs">37140</text>
<text x="460.8" y="192.15" textLength="28.3" lengthAdjust="spacingAndGlyphs">36459</text>
<text x="419.4" y="233.65" textLength="28" lengthAdjust="spacingAndGlyphs">37103</text>
<text x="459.5" y="278.15" textLength="28" lengthAdjust="spacingAndGlyphs">37104</text>
<text x="10" y="278.45" textLength="28.5" lengthAdjust="spacingAndGlyphs">37096</text>
<text x="10" y="306.45" textLength="28.5" lengthAdjust="spacingAndGlyphs">37095</text>
<text x="525.5" y="338.85" textLength="28.5" lengthAdjust="spacingAndGlyphs">37098</text>
<text x="190" y="343.65" textLength="28.5" lengthAdjust="spacingAndGlyphs">36468</text>
<text x="238.5" y="351.65" textLength="28.5" lengthAdjust="spacingAndGlyphs">36458</text>
<text x="74.5" y="386.65" textLength="29" lengthAdjust="spacingAndGlyphs">37071</text>
<text x="192.5" y="395.45" textLength="60" lengthAdjust="spacingAndGlyphs">37051-37052</text>
<text x="259" y="497.75" textLength="28.7" lengthAdjust="spacingAndGlyphs">37050</text>
</g>
</svg>
</body></html>
